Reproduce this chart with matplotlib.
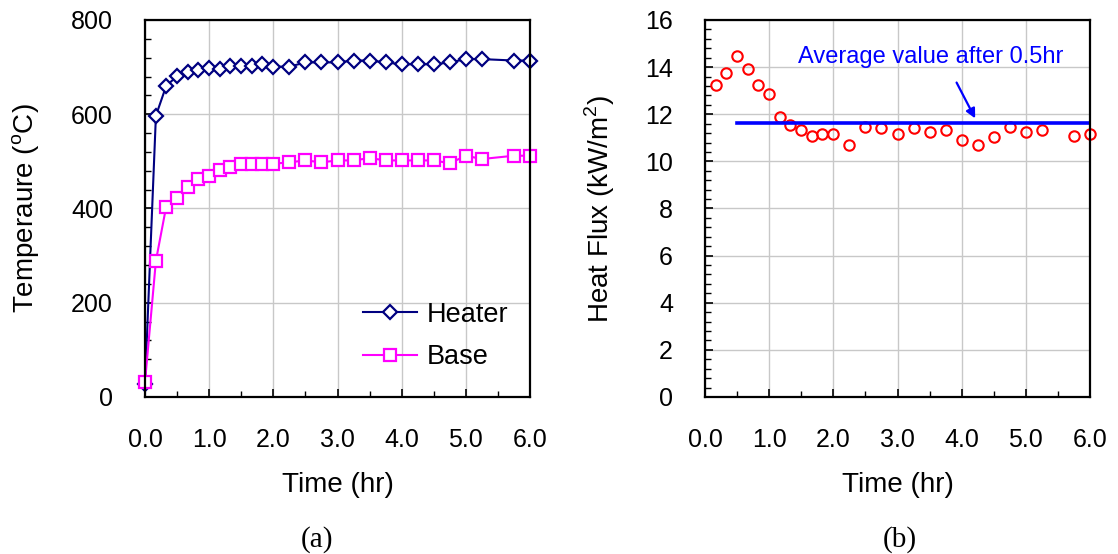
import numpy as np
import matplotlib
matplotlib.use("Agg")
import matplotlib.pyplot as plt
from matplotlib.ticker import MultipleLocator

plt.rcParams['font.family'] = ['Liberation Sans', 'DejaVu Sans']
plt.rcParams['mathtext.fontset'] = 'custom'
plt.rcParams['mathtext.rm'] = 'Liberation Sans'

# time points (hr)
time_hr = [0.0, 0.17, 0.33, 0.5, 0.67, 0.83, 1.0, 1.17, 1.33, 1.5, 1.67, 1.83, 2.0,
           2.25, 2.5, 2.75, 3.0, 3.25, 3.5, 3.75, 4.0, 4.25, 4.5, 4.75, 5.0, 5.25, 5.75, 6.0]
heater_temp = [27, 597, 660, 681, 689, 694, 698, 697, 702, 702, 702, 707, 701,
               701, 710, 710, 710, 714, 714, 710, 706, 706, 706, 710, 717, 717, 714, 714]
base_temp = [32, 289, 404, 422, 445, 462, 470, 482, 488, 495, 495, 495, 495,
             498, 502, 498, 502, 502, 507, 502, 502, 502, 502, 496, 512, 505, 512, 512]

# heat flux (kW/m2)
flux_time = time_hr[1:]
heat_flux = [13.26, 13.75, 14.49, 13.9, 13.26, 12.86, 11.9, 11.55, 11.33, 11.08, 11.16, 11.16,
             10.68, 11.47, 11.4, 11.16, 11.4, 11.23, 11.33, 10.9, 10.68, 11.02, 11.47, 11.23,
             11.33, 11.08, 11.16]
avg_start = 0.5
avg_end = 6.0
avg_flux = 11.62

fs = 18
fs_lab = 20
fig = plt.figure(figsize=(11.18, 5.54), dpi=100)
ax1 = fig.add_axes([0.1297, 0.2834, 0.3444, 0.6805])
ax2 = fig.add_axes([0.6306, 0.2834, 0.3444, 0.6805])


def style_axis(ax, ymax, ystep):
    ax.set_xlim(0, 6)
    ax.set_ylim(0, ymax)
    ax.xaxis.set_major_locator(MultipleLocator(1.0))
    ax.xaxis.set_minor_locator(MultipleLocator(0.5))
    ax.yaxis.set_major_locator(MultipleLocator(ystep))
    ax.yaxis.set_minor_locator(MultipleLocator(ystep / 5))
    ax.set_xticklabels([f"{v:.1f}" for v in ax.get_xticks()])
    ax.grid(True, which='major', color='#c8c8c8', linewidth=1.0)
    ax.set_axisbelow(True)
    ax.tick_params(which='both', direction='in', top=False, right=False, labelsize=fs)
    ax.tick_params(which='major', length=6, width=1.2)
    ax.tick_params(which='minor', length=4, width=1.0)
    ax.tick_params(axis='x', pad=22)
    ax.tick_params(axis='y', pad=23)
    for s in ax.spines.values():
        s.set_linewidth(1.6)
    ax.set_xlabel("Time (hr)", fontsize=fs_lab)
    ax.xaxis.set_label_coords(0.5, -0.2)


style_axis(ax1, 800, 200)
ax1.plot(time_hr, heater_temp, color='#000080', marker='D', markersize=7.5,
         markerfacecolor='white', markeredgewidth=1.6, linewidth=1.5, label='Heater', clip_on=False)
ax1.plot(time_hr, base_temp, color='#ff00ff', marker='s', markersize=8,
         markerfacecolor='white', markeredgewidth=1.6, linewidth=1.5, label='Base', clip_on=False)
ax1.set_ylabel("Temperaure ($^{\\rm o}$C)", fontsize=fs_lab)
ax1.yaxis.set_label_coords(-0.268, 0.5)
ax1.legend(loc='center left', bbox_to_anchor=(0.566, 0.162), frameon=False, fontsize=19.5,
           borderaxespad=0, borderpad=0, handlelength=2.0, handletextpad=0.35, labelspacing=0.6)

style_axis(ax2, 16, 2)
ax2.plot(flux_time, heat_flux, linestyle='none', marker='o', markersize=7.5,
         markerfacecolor='none', markeredgecolor='#ff0000', markeredgewidth=1.5, clip_on=False)
ax2.plot([avg_start, avg_end], [avg_flux, avg_flux], color='#0000ff', linewidth=2.6)
ax2.annotate("", xy=(4.23, 11.72), xytext=(3.9, 13.45),
             arrowprops=dict(arrowstyle='-|>', color='#0000ff', lw=1.6, mutation_scale=14))
ax2.text(3.52, 14.44, "Average value after 0.5hr", color='#0000ff', fontsize=17,
         ha='center', va='center')
ax2.set_ylabel("Heat Flux (kW/m$^2$)", fontsize=fs_lab)
ax2.yaxis.set_label_coords(-0.229, 0.5)

fig.text(317 / 1118, 1 - 540 / 554, "(a)", fontsize=21, family='Liberation Serif', ha='center', va='center')
fig.text(900 / 1118, 1 - 540 / 554, "(b)", fontsize=21, family='Liberation Serif', ha='center', va='center')

fig.savefig("out.png", dpi=100)
